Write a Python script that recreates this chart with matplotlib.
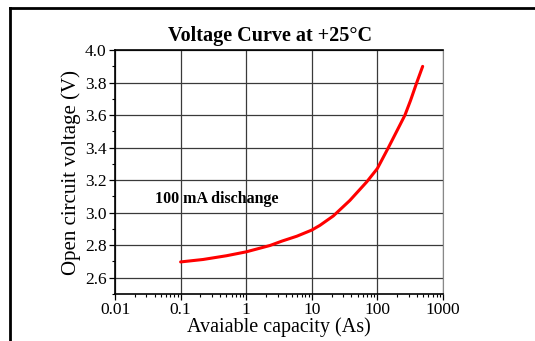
import numpy as np
import matplotlib.pyplot as plt
from matplotlib.lines import Line2D
from matplotlib.ticker import FixedLocator, MultipleLocator, LogLocator, NullFormatter

capacity = [0.1, 0.22, 0.5, 1, 2.3, 3.5, 5.9, 10, 13.3, 21.3, 38, 69, 100, 147, 221,
            263, 320, 398, 490]
voltage = [2.697, 2.712, 2.735, 2.759, 2.798, 2.825, 2.855, 2.893, 2.922, 2.98, 3.075,
           3.19, 3.272, 3.40, 3.54, 3.6, 3.69, 3.8, 3.9]

x_ticks = [0.01, 0.1, 1, 10, 100, 1000]
x_labels = ["0.01", "0.1", "1", "10", "100", "1000"]
y_ticks = [2.6, 2.8, 3.0, 3.2, 3.4, 3.6, 3.8, 4.0]

plt.rcParams['font.family'] = ['Liberation Serif', 'DejaVu Serif']

fig = plt.figure(figsize=(5.35, 3.41), dpi=100)
ax = fig.add_axes([0.215, 0.138, 0.613, 0.715])

ax.plot(capacity, voltage, color='#ff0000', lw=2.2, solid_capstyle='round',
        solid_joinstyle='round')

ax.set_xscale('log')
ax.set_xlim(0.01, 1000)
ax.set_ylim(2.5, 4.0)
ax.xaxis.set_major_locator(FixedLocator(x_ticks))
ax.set_xticklabels(x_labels)
ax.xaxis.set_minor_locator(LogLocator(base=10, subs=np.arange(2, 10)))
ax.xaxis.set_minor_formatter(NullFormatter())
ax.set_yticks(y_ticks)
ax.set_yticklabels(["%.1f" % v for v in y_ticks])
ax.yaxis.set_minor_locator(MultipleLocator(0.1))

ax.tick_params(which='major', direction='out', length=4, width=0.9, labelsize=12.5, pad=2)
ax.tick_params(which='minor', direction='out', length=2.5, width=0.8)
ax.grid(True, which='major', color='#3a3a3a', lw=0.9)

for s in ['left', 'bottom', 'top']:
    ax.spines[s].set_color('black')
    ax.spines[s].set_linewidth(1.2)
ax.spines['right'].set_color('#888888')

ax.set_xlabel("Avaiable capacity (As)", fontsize=14.5, labelpad=-1)
ax.set_ylabel("Open circuit voltage (V)", fontsize=15, labelpad=3)
fig.text(270 / 535, 1 - 36 / 341, "Voltage Curve at +25\u00b0C", fontsize=14.5,
         fontweight='bold', ha='center', va='center')
ax.text(0.122, 0.39, "100 mA dischange", transform=ax.transAxes, fontsize=11.5,
        fontweight='bold', ha='left', va='center')

# outer frame (left and top edges only visible)
fig.add_artist(Line2D([10 / 535, 10 / 535], [0, 1 - 8 / 341], transform=fig.transFigure,
                      color='black', lw=2))
fig.add_artist(Line2D([10 / 535, 1], [1 - 8 / 341, 1 - 8 / 341], transform=fig.transFigure,
                      color='black', lw=2))

fig.savefig("out.png", dpi=100)
